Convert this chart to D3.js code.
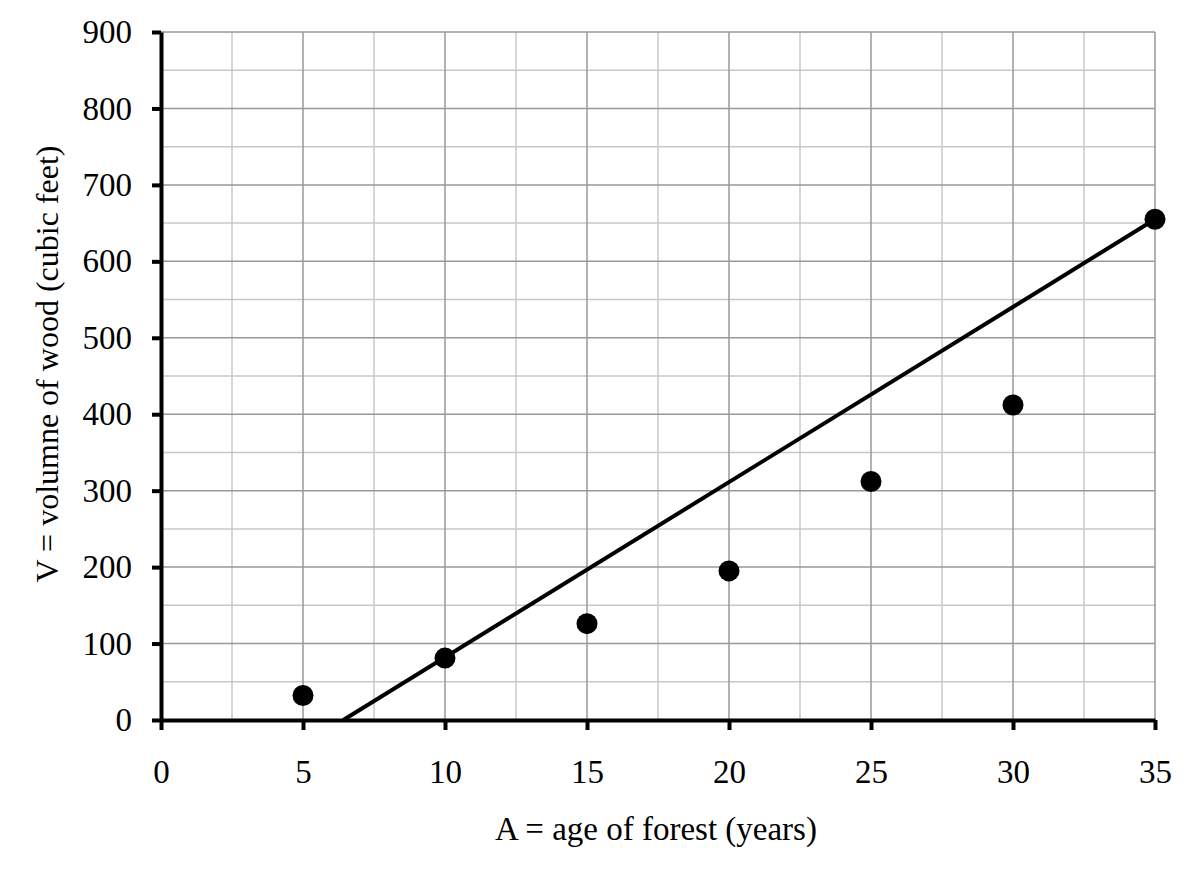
<!DOCTYPE html>
<html><head><meta charset="utf-8">
<script src="https://cdn.jsdelivr.net/npm/d3@7"></script>
<style>body{margin:0;background:#fff}</style>
</head><body>
<svg id="chart" width="1194" height="872"></svg>
<script>
const ages = [5, 10, 15, 20, 25, 30, 35];
const volumes = [32, 81, 126, 195, 312, 412, 655];
const lineAges = [6.42, 35];
const lineVolumes = [0, 655];
const xTicks = [0, 5, 10, 15, 20, 25, 30, 35];
const yTicks = [0, 100, 200, 300, 400, 500, 600, 700, 800, 900];
const xLabel = "A = age of forest (years)";
const yLabel = "V = volumne of wood (cubic feet)";

const svg = d3.select("#chart");
const x = d3.scaleLinear().domain([0, 35]).range([161, 1155]);
const y = d3.scaleLinear().domain([0, 900]).range([720, 32]);
const font = "'Liberation Serif','Times New Roman',serif";
const fs = "33px";

// minor grid
const g = svg.append("g");
g.selectAll(".vmin").data(d3.range(2.5, 35, 5)).enter().append("line")
  .attr("x1", d => x(d)).attr("x2", d => x(d)).attr("y1", y(0)).attr("y2", y(900))
  .attr("stroke", "#c8c8c8").attr("stroke-width", 1.5);
g.selectAll(".hmin").data(d3.range(50, 900, 100)).enter().append("line")
  .attr("y1", d => y(d)).attr("y2", d => y(d)).attr("x1", x(0)).attr("x2", x(35))
  .attr("stroke", "#c8c8c8").attr("stroke-width", 1.5);
// major grid
g.selectAll(".vmaj").data(xTicks.slice(1)).enter().append("line")
  .attr("x1", d => x(d)).attr("x2", d => x(d)).attr("y1", y(0)).attr("y2", y(900))
  .attr("stroke", "#999").attr("stroke-width", 1.5);
g.selectAll(".hmaj").data(yTicks.slice(1)).enter().append("line")
  .attr("y1", d => y(d)).attr("y2", d => y(d)).attr("x1", x(0)).attr("x2", x(35))
  .attr("stroke", "#999").attr("stroke-width", 1.5);

// axes
const xAxis = svg.append("g").attr("transform", `translate(0,${y(0)})`)
  .call(d3.axisBottom(x).tickValues(xTicks).tickSizeInner(10).tickSizeOuter(0).tickPadding(30));
const yAxis = svg.append("g").attr("transform", `translate(${x(0)},0)`)
  .call(d3.axisLeft(y).tickValues(yTicks).tickSizeInner(9).tickSizeOuter(0).tickPadding(20));
[xAxis, yAxis].forEach(a => {
  a.select(".domain").attr("stroke", "#000").attr("stroke-width", 4);
  a.selectAll(".tick line").attr("stroke", "#000").attr("stroke-width", 4);
  a.selectAll(".tick text").attr("fill", "#000").style("font-family", font).style("font-size", fs);
});
xAxis.selectAll(".tick text").attr("y", 63).attr("dy", 0);

// fit line
svg.append("path")
  .datum(lineAges.map((a, i) => [a, lineVolumes[i]]))
  .attr("d", d3.line().x(d => x(d[0])).y(d => y(d[1])))
  .attr("stroke", "#000").attr("stroke-width", 4).attr("fill", "none");

// points
svg.selectAll(".pt").data(ages.map((a, i) => [a, volumes[i]])).enter().append("circle")
  .attr("cx", d => x(d[0])).attr("cy", d => y(d[1])).attr("r", 10.5).attr("fill", "#000");

// labels
svg.append("text").attr("x", 656).attr("y", 840).attr("text-anchor", "middle")
  .style("font-family", font).style("font-size", fs).text(xLabel);
svg.append("text").attr("transform", "translate(58,364) rotate(-90)").attr("text-anchor", "middle")
  .style("font-family", font).style("font-size", "32px").text(yLabel);
</script>
</body></html>
